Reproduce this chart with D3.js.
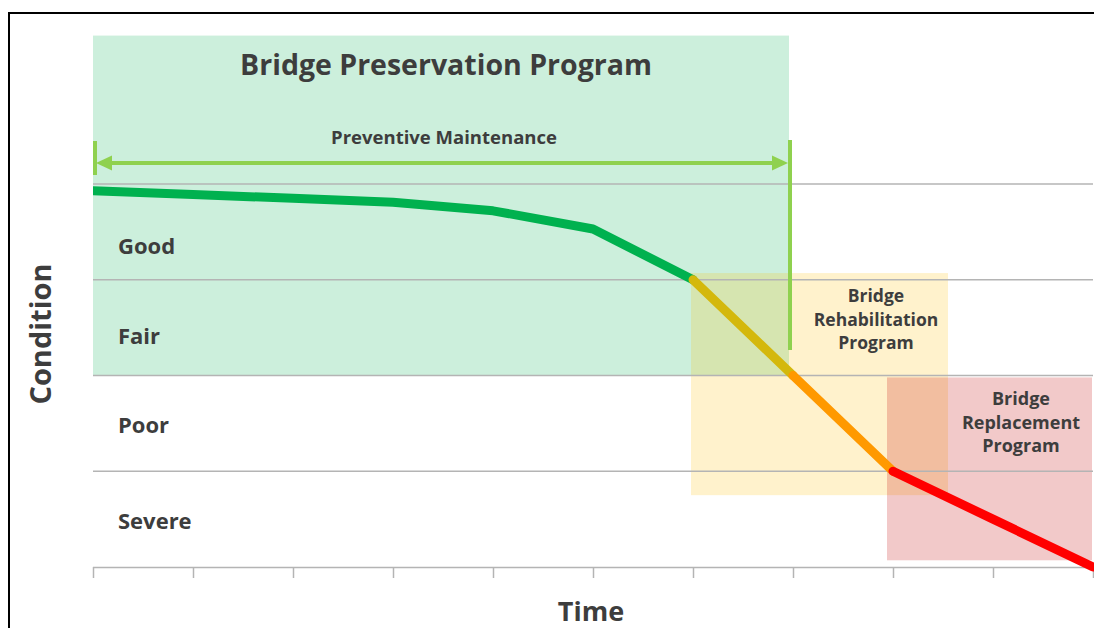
<!DOCTYPE html>
<html>
<head>
<meta charset="utf-8">
<script src="https://cdn.jsdelivr.net/npm/d3@7"></script>
<style>
  html, body { margin: 0; padding: 0; background: #fff; }
  svg { display: block; }
  text { font-family: "Open Sans", "DejaVu Sans", sans-serif; font-weight: 700; fill: #3d3d3d; }
</style>
</head>
<body>
<svg id="chart" width="1094" height="628"></svg>
<script>
// ---- data ----
const time = [0, 1, 2, 3, 4, 5, 6, 7, 8, 9, 10];
const condition = [3.93, 3.89, 3.85, 3.81, 3.72, 3.53, 3.0, 2.0, 1.0, 0.5, 0];
const bandNames = ["Good", "Fair", "Poor", "Severe"];
const bandTops = [4, 3, 2, 1];
const gridValues = [4, 3, 2, 1];
const tickValues = [0, 1, 2, 3, 4, 5, 6, 7, 8, 9, 10];
const segmentStages = ["good", "good", "good", "good", "good", "good", "fair", "poor", "severe", "severe"];
// program boxes (time start/end, condition low/high)
const programNames = ["Bridge Preservation Program", "Bridge Rehabilitation Program", "Bridge Replacement Program"];
const programT0 = [0, 5.98, 7.94];
const programT1 = [6.96, 8.55, 9.99];
const programC0 = [2.0, 0.75, 0.07];
const programC1 = [5.55, 3.07, 1.98];
const pmLabel = "Preventive Maintenance";
const pmStart = 0, pmEnd = 6.96, pmLevel = 4.22;

// ---- layout ----
const svg = d3.select("#chart");
const x = d3.scaleLinear().domain([0, 10]).range([93, 1093]);
const y = d3.scaleLinear().domain([0, 4]).range([567, 184]);

const stageColor = { good: "#00b14f", fair: "#d4b80c", poor: "#ff9900", severe: "#ff0000" };
const boxFill = ["rgba(0,176,80,0.20)", "rgba(255,192,0,0.20)", "rgba(192,0,0,0.21)"];

svg.append("defs").append("clipPath").attr("id", "plotclip")
  .append("rect").attr("x", x(0)).attr("y", 0).attr("width", 1094 - x(0)).attr("height", 628);

// frame
svg.append("path").attr("d", "M9,628V13H1094").attr("fill", "none").attr("stroke", "#000").attr("stroke-width", 2);

// program boxes
programNames.forEach((n, i) => {
  svg.append("rect")
    .attr("x", x(programT0[i])).attr("width", x(programT1[i]) - x(programT0[i]))
    .attr("y", y(programC1[i])).attr("height", y(programC0[i]) - y(programC1[i]))
    .attr("fill", boxFill[i]);
});

// gridlines
svg.selectAll(".grid").data(gridValues).join("line")
  .attr("x1", x(0)).attr("x2", x(10))
  .attr("y1", d => y(d)).attr("y2", d => y(d))
  .attr("stroke", "#b4b4b4").attr("stroke-width", 1.5);

// x axis
const axis = d3.axisBottom(x).tickValues(tickValues).tickSize(11).tickFormat("");
const gx = svg.append("g").attr("transform", `translate(0,${y(0)})`).call(axis);
gx.select(".domain").attr("stroke", "#b4b4b4").attr("stroke-width", 1.5).attr("d", `M${x(0)},0.5H${x(10)}`);
gx.selectAll(".tick line").attr("stroke", "#b4b4b4").attr("stroke-width", 1.5);

// preventive maintenance bracket
const pmColor = "#8fd14f";
const py = y(pmLevel);
svg.append("line").attr("x1", x(pmStart) + 2).attr("x2", x(pmStart) + 2).attr("y1", 141).attr("y2", 175)
  .attr("stroke", pmColor).attr("stroke-width", 4);
svg.append("line").attr("x1", x(pmEnd) + 1).attr("x2", x(pmEnd) + 1).attr("y1", 140).attr("y2", 350)
  .attr("stroke", pmColor).attr("stroke-width", 4);
svg.append("line").attr("x1", x(pmStart) + 12).attr("x2", x(pmEnd) - 10).attr("y1", py).attr("y2", py)
  .attr("stroke", pmColor).attr("stroke-width", 4);
const aL = x(pmStart) + 3, aR = x(pmEnd) - 1;
svg.append("path").attr("d", `M${aL},${py}L${aL + 16},${py - 7.5}L${aL + 16},${py + 7.5}Z`).attr("fill", pmColor);
svg.append("path").attr("d", `M${aR},${py}L${aR - 16},${py - 7.5}L${aR - 16},${py + 7.5}Z`).attr("fill", pmColor);

// condition line, grouped by stage colour
const pts = time.map((t, i) => [x(t), y(condition[i])]);
const groups = [];
segmentStages.forEach((s, i) => {
  const last = groups[groups.length - 1];
  if (last && last.stage === s) last.pts.push(pts[i + 1]);
  else groups.push({ stage: s, pts: [pts[i], pts[i + 1]] });
});
const lineGen = d3.line();
const lg = svg.append("g").attr("clip-path", "url(#plotclip)");
groups.forEach(g => {
  lg.append("path").attr("d", lineGen(g.pts)).attr("fill", "none")
    .attr("stroke", stageColor[g.stage]).attr("stroke-width", 9)
    .attr("stroke-linejoin", "round").attr("stroke-linecap", "round");
});

// band labels
const labelOffsets = [13, 7, 1, 1];
bandNames.forEach((b, i) => {
  svg.append("text").attr("x", 118).attr("y", y(bandTops[i] - 0.5) + labelOffsets[i])
    .attr("dominant-baseline", "central").attr("font-size", 22).text(b);
});

// titles
svg.append("text").attr("x", 446).attr("y", 75).attr("text-anchor", "middle").attr("font-size", 28.5)
  .text(programNames[0]);
svg.append("text").attr("x", 444).attr("y", 144).attr("text-anchor", "middle").attr("font-size", 18.5)
  .text(pmLabel);

const rehabLines = ["Bridge", "Rehabilitation", "Program"];
rehabLines.forEach((l, i) => {
  svg.append("text").attr("x", 876).attr("y", 302 + i * 23.5).attr("text-anchor", "middle")
    .attr("font-size", 17.5).text(l);
});
const replLines = ["Bridge", "Replacement", "Program"];
replLines.forEach((l, i) => {
  svg.append("text").attr("x", 1021).attr("y", 405 + i * 23.5).attr("text-anchor", "middle")
    .attr("font-size", 18).text(l);
});

// axis titles
svg.append("text").attr("x", 591).attr("y", 621).attr("text-anchor", "middle").attr("font-size", 27)
  .attr("fill", "#4a4a4a").text("Time");
svg.append("text").attr("transform", "translate(51,334) rotate(-90)").attr("text-anchor", "middle")
  .attr("font-size", 29).attr("fill", "#555").text("Condition");
</script>
</body>
</html>
